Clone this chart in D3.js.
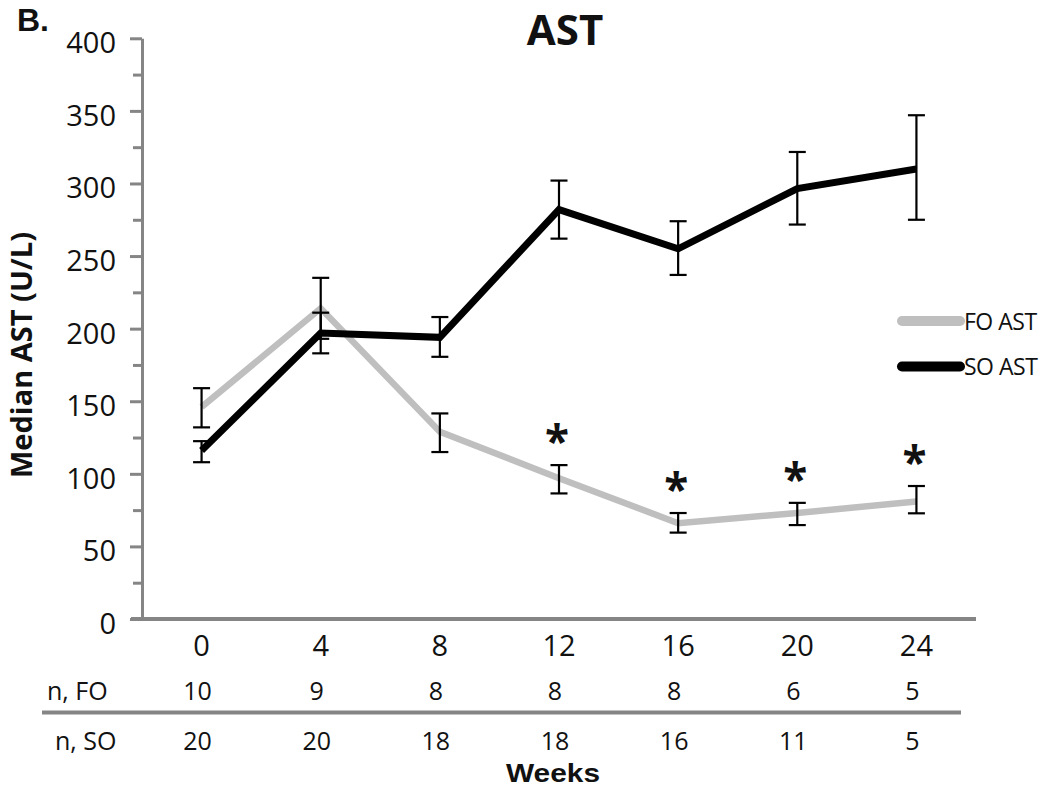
<!DOCTYPE html>
<html>
<head>
<meta charset="utf-8">
<script src="https://cdn.jsdelivr.net/npm/d3@7"></script>
<style>
  html, body { margin: 0; padding: 0; background: #fff; }
  svg { display: block; font-family: "Open Sans", "Liberation Sans", sans-serif; }
</style>
</head>
<body>
<svg id="chart" width="1050" height="788"></svg>
<script>
// ---- data ----
const weeks = ["0", "4", "8", "12", "16", "20", "24"];
const foMedian = [146, 214, 129, 97, 66, 73, 81];
const foLow    = [132, 193, 115, 86.5, 59.5, 64.7, 72.8];
const foHigh   = [159, 235, 141.6, 106, 73, 80, 91.6];
const soMedian = [116, 197, 194, 282, 255, 296.5, 310];
const soLow    = [108, 183, 180.6, 262, 237, 271.7, 275];
const soHigh   = [122.5, 211, 208, 302, 274, 321.7, 347];
const significant = [false, false, false, true, true, true, true];
const nFO = [10, 9, 8, 8, 8, 6, 5];
const nSO = [20, 20, 18, 18, 16, 11, 5];
const yTicks = [0, 50, 100, 150, 200, 250, 300, 350, 400];
const yMinorTicks = [25, 75, 125, 175, 225, 275, 325, 375];
const seriesNames = ["FO AST", "SO AST"];

// ---- layout ----
const svg = d3.select("#chart");
const x = d3.scaleBand().domain(weeks).range([142, 976]).padding(0);
const y = d3.scaleLinear().domain([0, 400]).range([619, 38.3]);
const cx = d => x(d) + x.bandwidth() / 2;
const axisColor = "#858585";
const foColor = "#bfbfbf";
const soColor = "#000000";

// y axis
const yAxis = d3.axisLeft(y).tickValues(yTicks).tickSize(12).tickPadding(14).tickSizeOuter(0);
const gy = svg.append("g").attr("transform", "translate(142,0)").call(yAxis);
gy.select(".domain").attr("stroke", axisColor).attr("stroke-width", 3);
gy.selectAll(".tick line").attr("stroke", axisColor).attr("stroke-width", 3);
gy.selectAll(".tick text").attr("font-size", 29).attr("fill", "#111")
  .attr("font-family", "Open Sans, sans-serif").attr("dy", "0.5em");
// minor ticks
const gyMinor = svg.append("g").attr("transform", "translate(142,0)")
  .call(d3.axisLeft(y).tickValues(yMinorTicks).tickSize(9).tickFormat(""));
gyMinor.select(".domain").remove();
gyMinor.selectAll(".tick line").attr("stroke", axisColor).attr("stroke-width", 3);

// x axis line
svg.append("line")
  .attr("x1", 131).attr("x2", x.range()[1])
  .attr("y1", y(0)).attr("y2", y(0))
  .attr("stroke", axisColor).attr("stroke-width", 4);

// x tick labels
svg.append("g").selectAll("text").data(weeks).join("text")
  .attr("x", d => cx(d)).attr("y", 656)
  .attr("text-anchor", "middle").attr("font-size", 29).attr("fill", "#111")
  .text(d => d);

// n table
svg.append("text").attr("x", 47).attr("y", 700).attr("font-size", 25).attr("fill", "#111").text("n, FO");
svg.append("g").selectAll("text").data(nFO).join("text")
  .attr("x", (d, i) => cx(weeks[i]) - 4).attr("y", 700)
  .attr("text-anchor", "middle").attr("font-size", 25).attr("fill", "#111")
  .text(d => d);
svg.append("line").attr("x1", 42).attr("x2", 961).attr("y1", 712.5).attr("y2", 712.5)
  .attr("stroke", axisColor).attr("stroke-width", 4);
svg.append("text").attr("x", 55).attr("y", 750).attr("font-size", 25).attr("fill", "#111").text("n, SO");
svg.append("g").selectAll("text").data(nSO).join("text")
  .attr("x", (d, i) => cx(weeks[i]) - 4).attr("y", 750)
  .attr("text-anchor", "middle").attr("font-size", 25).attr("fill", "#111")
  .text(d => d);
svg.append("text").attr("x", 553).attr("y", 782).attr("text-anchor", "middle")
  .attr("font-family", "Liberation Sans, Arial, sans-serif")
  .attr("textLength", 94).attr("lengthAdjust", "spacingAndGlyphs")
  .attr("font-size", 26).attr("font-weight", "bold").attr("fill", "#111").text("Weeks");

// titles
svg.append("text").attr("x", 565).attr("y", 45).attr("text-anchor", "middle")
  .attr("font-size", 42).attr("font-weight", "bold").attr("fill", "#111").text("AST");
svg.append("text").attr("x", 17).attr("y", 31)
  .attr("font-family", "Liberation Sans, Arial, sans-serif")
  .attr("font-size", 32).attr("font-weight", "bold").attr("fill", "#111").text("B.");
svg.append("text").attr("transform", "translate(32,355) rotate(-90)")
  .attr("text-anchor", "middle").attr("font-size", 29).attr("font-weight", "bold").attr("fill", "#111")
  .text("Median AST (U/L)");

// lines
const line = d3.line().x((d, i) => cx(weeks[i])).y(d => y(d));
svg.append("path").datum(foMedian).attr("d", line)
  .attr("fill", "none").attr("stroke", foColor).attr("stroke-width", 6.5).attr("stroke-linejoin", "miter");
svg.append("path").datum(soMedian).attr("d", line)
  .attr("fill", "none").attr("stroke", soColor).attr("stroke-width", 7).attr("stroke-linejoin", "miter");

// error bars
function errorBars(lows, highs) {
  const g = svg.append("g").attr("stroke", "#000").attr("stroke-width", 2.2);
  weeks.forEach((w, i) => {
    const xc = cx(w);
    g.append("line").attr("x1", xc).attr("x2", xc).attr("y1", y(lows[i])).attr("y2", y(highs[i]));
    g.append("line").attr("x1", xc - 8.5).attr("x2", xc + 8.5).attr("y1", y(lows[i])).attr("y2", y(lows[i]));
    g.append("line").attr("x1", xc - 8.5).attr("x2", xc + 8.5).attr("y1", y(highs[i])).attr("y2", y(highs[i]));
  });
}
errorBars(foLow, foHigh);
errorBars(soLow, soHigh);

// significance asterisks
svg.append("g").selectAll("text")
  .data(weeks.map((w, i) => ({ w, i })).filter(d => significant[d.i]))
  .join("text")
  .attr("x", d => cx(d.w) - 2).attr("y", d => y(foHigh[d.i]) - 8)
  .attr("text-anchor", "middle").attr("font-size", 44).attr("font-weight", "bold").attr("fill", "#111")
  .text("*");

// legend
const legend = svg.append("g");
[foColor, soColor].forEach((c, i) => {
  const ly = 321 + i * 45.5;
  legend.append("line").attr("x1", 902).attr("x2", 960).attr("y1", ly).attr("y2", ly)
    .attr("stroke", c).attr("stroke-width", 10).attr("stroke-linecap", "round");
  legend.append("text").attr("x", 964).attr("y", ly + 8.5)
    .attr("font-size", 23).attr("fill", "#111").attr("letter-spacing", -0.5)
    .text(seriesNames[i]);
});
</script>
</body>
</html>
